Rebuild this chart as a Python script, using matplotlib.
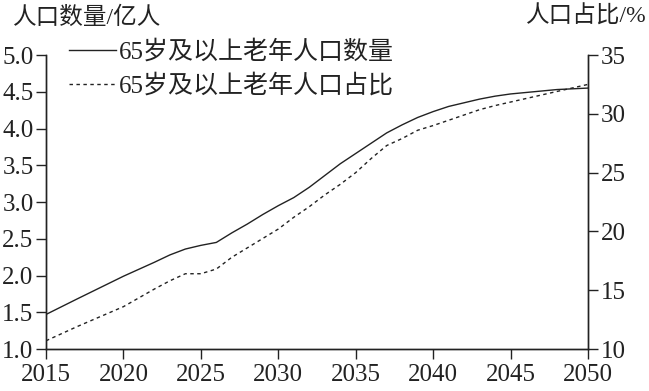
import matplotlib
matplotlib.use("Agg")
from matplotlib import pyplot as plt

FONT = ["Liberation Serif", "Noto Sans CJK SC"]
INK = "#222222"

years = [2015, 2017, 2020, 2022, 2023, 2024, 2025, 2026, 2027, 2028, 2029,
         2030, 2031, 2032, 2033, 2034, 2035, 2036, 2037, 2038, 2039, 2040,
         2041, 2042, 2043, 2044, 2045, 2046, 2047, 2048, 2049, 2050]
# 65岁及以上老年人口数量 (亿人)
count = [1.47, 1.68, 1.99, 2.18, 2.28, 2.36, 2.41, 2.45, 2.58, 2.70, 2.83,
         2.95, 3.06, 3.20, 3.36, 3.52, 3.66, 3.80, 3.94, 4.05, 4.15, 4.23,
         4.30, 4.35, 4.40, 4.44, 4.47, 4.49, 4.51, 4.53, 4.54, 4.55]
# 65岁及以上老年人口占比 (%)
share = [10.7, 11.9, 13.6, 15.1, 15.8, 16.4, 16.4, 16.8, 17.8, 18.6, 19.4,
         20.2, 21.2, 22.1, 23.1, 24.0, 25.0, 26.2, 27.3, 27.9, 28.6, 29.0,
         29.45, 29.9, 30.35, 30.7, 31.0, 31.3, 31.6, 31.9, 32.2, 32.5]

x_ticks = [2015, 2020, 2025, 2030, 2035, 2040, 2045, 2050]
left_ticks = [1.0, 1.5, 2.0, 2.5, 3.0, 3.5, 4.0, 4.5, 5.0]
right_ticks = [10, 15, 20, 25, 30, 35]

fig = plt.figure(figsize=(6.49, 3.91), dpi=100)
ax = fig.add_axes([46 / 649, 1 - 349 / 391, 542 / 649, 294 / 391])
ax2 = ax.twinx()

l1, = ax.plot(years, count, color=INK, lw=1.0, label="65岁及以上老年人口数量")
l2, = ax2.plot(years, share, color=INK, lw=1.0, linestyle=(0, (2.5, 2.5)),
               label="65岁及以上老年人口占比")

ax.set_xlim(2015, 2050)
ax.set_ylim(1.0, 5.0)
ax2.set_ylim(10, 35)
ax.set_xticks(x_ticks)
ax.set_yticks(left_ticks)
ax.set_yticklabels([f"{v:.1f}" for v in left_ticks])
ax2.set_yticks(right_ticks)

for a in (ax, ax2):
    a.spines["top"].set_visible(False)
    for s in a.spines.values():
        s.set_color(INK)
        s.set_linewidth(1.0)
    a.tick_params(direction="out", length=7, width=1.0, colors=INK,
                  labelsize=18, pad=2)
    for lab in a.get_xticklabels() + a.get_yticklabels():
        lab.set_fontfamily(FONT)
ax.tick_params(axis="x", pad=4)

fig.text(13 / 649, 1 - 18 / 391, "人口数量/亿人", family=FONT, fontsize=17,
         color=INK, ha="left", va="center")
fig.text(647 / 649, 1 - 17 / 391, "人口占比/%", family=FONT, fontsize=17,
         color=INK, ha="right", va="center")

leg = ax.legend(handles=[l1, l2], loc="upper left",
                bbox_to_anchor=(10 / 542, 1.095), frameon=False,
                prop={"family": FONT, "size": 18}, handlelength=1.9,
                handletextpad=0.1, labelspacing=0.42, borderpad=0)
for t in leg.get_texts():
    t.set_color(INK)

fig.savefig("out.png", dpi=100)
